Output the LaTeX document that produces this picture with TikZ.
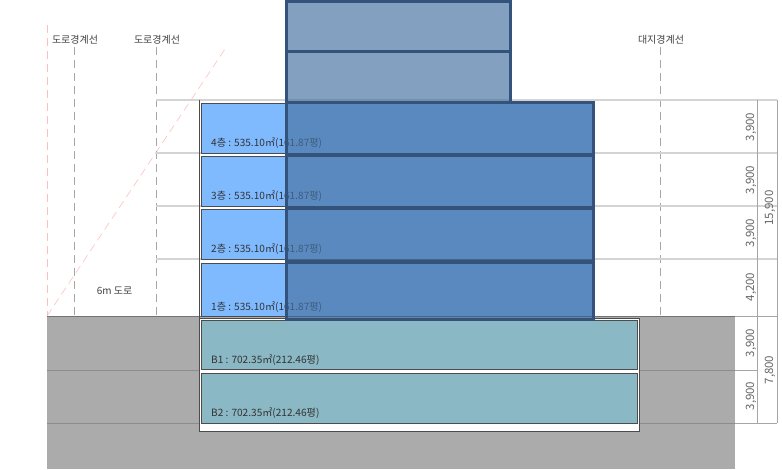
\documentclass[tikz,border=0pt]{standalone}
\usepackage{fontspec}
\setmainfont{Noto Sans CJK KR}
\definecolor{colGround}{HTML}{ABABAB}
\definecolor{colTeal}{HTML}{8AB8C4}
\definecolor{colFloor}{HTML}{7FBAFF}
\definecolor{colTower}{HTML}{4771A1}
\definecolor{colEdge}{HTML}{34537A}
\colorlet{lcol}{black!17!white}
\tikzstyle{level}=[line width=1.6pt,lcol]
\tikzstyle{thin}=[line width=0.6pt,black!35!white]
\tikzstyle{guide}=[line width=0.6pt,dash pattern=on 8pt off 5pt,black!35!white]
\tikzstyle{pguide}=[guide,red!25!white]
\tikzstyle{floorbox}=[fill=colFloor,draw=black!70!white,line width=0.7pt]
\tikzstyle{basebox}=[fill=colTeal,draw=black!70!white,line width=0.8pt]
\tikzstyle{towerbox}=[fill=colTower,fill opacity=0.67,draw=colEdge,draw opacity=1,line width=3pt]
\tikzstyle{areatext}=[anchor=west,inner sep=0pt,font=\fontsize{10.1}{12}\selectfont,black!80!white]
\tikzstyle{linetext}=[inner sep=0pt,font=\fontsize{10}{12}\selectfont,black!75!white]
\tikzstyle{dimtext}=[inner sep=0pt,rotate=90,font=\fontsize{11.5}{13}\selectfont,black!60!white]
\begin{document}
\begin{tikzpicture}[x=1pt,y=-1pt]
	\useasboundingbox (0,0) rectangle (782,469);
	% ground
	\fill[colGround] (47,316) rectangle (735,469);
	\draw[line width=0.8pt,black!55!white] (47,316)--(735,316);
	\draw[line width=0.8pt,black!45!white] (47,370)--(735,370) (47,423)--(735,423);
	% guide lines
	\draw[pguide] (47,25)--(47,316);
	\draw[pguide] (47,316)--(227,46);
	\draw[guide] (74,47)--(74,316);
	\draw[guide] (156,47)--(156,316);
	\draw[guide] (660,47)--(660,316);
	% levels
	\draw[level] (156,100)--(777,100) (156,153)--(777,153) (156,206)--(777,206) (156,259)--(777,259);
	\draw[thin] (735,316)--(777,316) (735,370)--(757,370) (735,423)--(777,423);
	\draw[thin] (757,100)--(757,423) (777,100)--(777,423);
	% basement
	\draw[fill=white,draw=black!70!white,line width=0.9pt] (199,318) rectangle (639,431);
	\draw[basebox] (201,320) rectangle (637,369);
	\draw[basebox] (201,373) rectangle (637,423);
	% floors
	\draw[line width=0.7pt,black!70!white] (199,100)--(199,318);
	\draw[floorbox] (201,103) rectangle (593,153);
	\draw[floorbox] (201,156) rectangle (593,206);
	\draw[floorbox] (201,209) rectangle (593,259);
	\draw[floorbox] (201,263) rectangle (593,316);
	% area labels
	\node[areatext] (f4) at (211,143) {4층 : 535.10㎡(161.87평)};
	\node[areatext] (f3) at (211,196.5) {3층 : 535.10㎡(161.87평)};
	\node[areatext] (f2) at (211,249.5) {2층 : 535.10㎡(161.87평)};
	\node[areatext] (f1) at (211,307) {1층 : 535.10㎡(161.87평)};
	\node[areatext] (b1) at (211,360.5) {B1 : 702.35㎡(212.46평)};
	\node[areatext] (b2) at (211,413.5) {B2 : 702.35㎡(212.46평)};
	% tower
	\draw[towerbox] (286,1.5) rectangle (510.5,51.5);
	\draw[towerbox] (286,51.5) rectangle (510.5,102.5);
	\draw[towerbox] (286,102.5) rectangle (593,154);
	\draw[towerbox] (286,155.5) rectangle (593,207);
	\draw[towerbox] (286,208.5) rectangle (593,261);
	\draw[towerbox] (286,262.5) rectangle (593,319);
	% names
	\node[linetext] (road1) at (75,39.5) {도로경계선};
	\node[linetext] (road2) at (157,39.5) {도로경계선};
	\node[linetext] (site) at (661,39.5) {대지경계선};
	\node[linetext] (road) at (114.5,291) {6m 도로};
	% dimensions
	\node[dimtext] (d4) at (751,127) {3,900};
	\node[dimtext] (d3) at (751,180) {3,900};
	\node[dimtext] (d2) at (751,233) {3,900};
	\node[dimtext] (d1) at (751,287) {4,200};
	\node[dimtext] (db1) at (751,343) {3,900};
	\node[dimtext] (db2) at (751,396) {3,900};
	\node[dimtext] (dup) at (770,208) {15,900};
	\node[dimtext] (ddown) at (770,370) {7,800};
\end{tikzpicture}
\end{document}
